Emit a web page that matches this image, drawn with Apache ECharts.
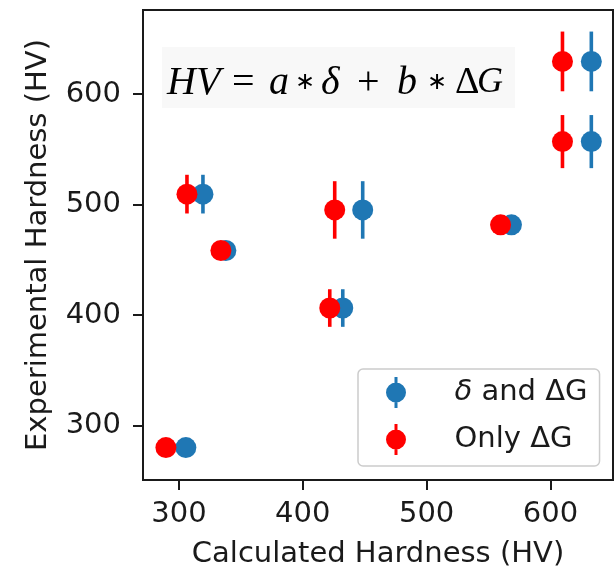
<!DOCTYPE html>
<html>
<head>
<meta charset="utf-8">
<script src="https://cdn.jsdelivr.net/npm/echarts@6/dist/echarts.min.js"></script>
<style>html,body{margin:0;padding:0;background:#fff;}#chart{width:615px;height:574px;}</style>
</head>
<body>
<div id="chart"></div>
<script>
// ---- data ----
const xTicks = [300, 400, 500, 600];
const yTicks = [300, 400, 500, 600];
const seriesNames = ['δ and ΔG', 'Only ΔG'];
const blueX = [305.6, 319.4, 337.9, 432.3, 448.4, 568.5, 633.0, 633.0];
const redX  = [289.5, 306.5, 333.9, 421.8, 425.8, 559.7, 609.7, 609.7];
const expY  = [280.3, 509.5, 458.5, 406.5, 495.2, 481.7, 629.5, 557.0];
const yErr  = [6, 17.5, 5, 17, 26, 5, 27, 24];

const BLUE = '#1f77b4', RED = '#ff0000', INK = '#1a1a1a';
const FONT = 'DejaVu Sans';

function rows(xs) { return xs.map((x, i) => [x, expY[i], yErr[i]]); }

function errSeries(name, xs, color) {
  return {
    type: 'custom', name: name, data: rows(xs), encode: { x: 0, y: 1 },
    silent: true,
    renderItem: function (params, api) {
      const x = api.value(0), y = api.value(1), e = api.value(2);
      const p1 = api.coord([x, y + e]), p2 = api.coord([x, y - e]);
      return { type: 'line', shape: { x1: p1[0], y1: p1[1], x2: p2[0], y2: p2[1] },
               style: { stroke: color, lineWidth: 3.6 } };
    }
  };
}
function ptSeries(name, xs, color) {
  return {
    type: 'scatter', name: name, data: rows(xs).map(r => [r[0], r[1]]),
    symbol: 'circle', symbolSize: 21, itemStyle: { color: color, opacity: 1 },
    emphasis: { disabled: true }, silent: true
  };
}
const legendIcon = 'path://M-1.5,-15.5 L1.5,-15.5 L1.5,15.5 L-1.5,15.5 Z M10,0 A10,10 0 1,1 -10,0 A10,10 0 1,1 10,0 Z';

// equation pieces: [text, x, italic, fontSize, align]
const EQ_Y = 83;
const eqPieces = [
  ['HV', 167, true, 40, 'left'],
  ['=', 232, false, 40, 'left'],
  ['a', 269, true, 40, 'left'],
  ['∗', 305, false, 24, 'center'],
  ['δ', 321, true, 40, 'left'],
  ['+', 357, false, 40, 'left'],
  ['b', 397, true, 40, 'left'],
  ['∗', 437, false, 24, 'center'],
  ['Δ', 455, false, 38, 'left'],
  ['G', 477, true, 36, 'left']
];
function eqGraphic() {
  return eqPieces.map(p => ({
    type: 'text', x: p[1], y: EQ_Y, silent: true,
    style: { text: p[0], fontFamily: p[0] === '∗' ? 'DejaVu Sans' : 'Liberation Serif',
             fontStyle: p[2] ? 'italic' : 'normal', fontSize: p[3], fill: '#000',
             align: p[4], verticalAlign: 'middle' }
  }));
}

const chart = echarts.init(document.getElementById('chart'), null, { renderer: 'canvas' });
chart.setOption({
  animation: false,
  backgroundColor: '#fff',
  grid: { left: 143, top: 10, width: 470, height: 475, show: true, borderColor: INK, borderWidth: 2, backgroundColor: 'transparent' },
  xAxis: {
    type: 'value', min: 271, max: 650.5,
    name: 'Calculated Hardness (HV)', nameLocation: 'middle', nameGap: 60, nameMoveOverlap: false,
    nameTextStyle: { fontFamily: FONT, fontSize: 29, color: INK },
    axisLine: { show: true, lineStyle: { color: INK, width: 2 } },
    axisTick: { show: true, length: 10, lineStyle: { color: INK, width: 2 }, customValues: xTicks },
    axisLabel: { fontFamily: FONT, fontSize: 29, color: INK, margin: 20, customValues: xTicks },
    splitLine: { show: false }
  },
  yAxis: {
    type: 'value', min: 251, max: 676,
    name: 'Experimental Hardness (HV)', nameLocation: 'middle', nameGap: 90, nameMoveOverlap: false,
    nameTextStyle: { fontFamily: FONT, fontSize: 29, color: INK },
    axisLine: { show: true, lineStyle: { color: INK, width: 2 } },
    axisTick: { show: true, length: 10, lineStyle: { color: INK, width: 2 }, customValues: yTicks },
    axisLabel: { fontFamily: FONT, fontSize: 29, color: INK, margin: 22, padding: [4, 0, 0, 0], customValues: yTicks },
    splitLine: { show: false }
  },
  legend: {
    orient: 'vertical', left: 358, top: 369,
    data: seriesNames.map(n => ({ name: n, icon: legendIcon })),
    formatter: function (n) { return n.replace('δ', '{it|δ}'); },
    itemWidth: 21, itemHeight: 31, itemGap: 16,
    padding: [8, 12, 11, 28],
    backgroundColor: 'rgba(255,255,255,0.85)', borderColor: '#cccccc', borderWidth: 1.5, borderRadius: 5,
    textStyle: { fontFamily: FONT, fontSize: 29, color: INK, padding: [0, 0, 0, 43],
      rich: { it: { fontFamily: FONT, fontStyle: 'italic', fontSize: 29, color: INK } } },
    selectedMode: false
  },
  graphic: [
    { type: 'rect', left: 162, top: 47, shape: { width: 353, height: 61 }, style: { fill: '#f8f8f8' }, silent: true }
  ].concat(eqGraphic()),
  series: [
    errSeries('errBlue', blueX, BLUE), ptSeries(seriesNames[0], blueX, BLUE),
    errSeries('errRed', redX, RED), ptSeries(seriesNames[1], redX, RED)
  ]
});
</script>
</body>
</html>
